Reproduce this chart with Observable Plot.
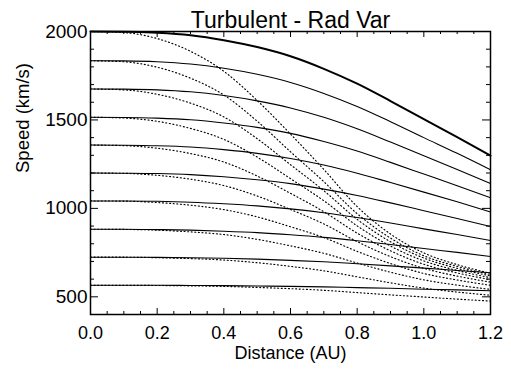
<!DOCTYPE html>
<html><head><meta charset="utf-8">
<script src="https://cdn.jsdelivr.net/npm/d3@7"></script>
<script src="https://cdn.jsdelivr.net/npm/@observablehq/plot@0.6"></script>
<style>body{margin:0;background:#fff} svg{display:block}</style>
</head><body><div id="chart"></div>
<script>
// Distance samples (AU)
const distance = [0, 0.1, 0.2, 0.3, 0.4, 0.5, 0.6, 0.7, 0.8, 0.9, 1.0, 1.1, 1.2];

// Solid curves (km/s), one list per starting speed
const solidSpeeds = [
  [2000,1999,1993,1979,1951,1912,1860,1789,1705,1607,1505,1403,1298],
  [1835,1834,1829,1816,1792,1758,1712,1650,1576,1490,1400,1311,1218],
  [1675,1674,1670,1659,1638,1608,1568,1515,1450,1375,1298,1220,1140],
  [1515,1514,1510,1501,1483,1458,1424,1378,1324,1260,1194,1128,1060],
  [1358,1357,1354,1347,1332,1311,1282,1245,1199,1146,1092,1037,980],
  [1200,1199,1197,1191,1179,1162,1140,1109,1073,1031,987,943,898],
  [1042,1042,1040,1035,1026,1014,997,975,948,917,884,852,818],
  [882,882,880,877,871,863,851,836,817,796,773,751,728],
  [724,724,723,721,718,713,706,698,687,675,662,649,636],
  [565,565,565,564,563,561,559,556,552,548,543,539,534]
];

// Dotted curves (km/s)
const dottedSpeeds = [
  [2000,1994,1960,1888,1775,1610,1420,1220,1010,855,748,682,633],
  [1835,1829,1798,1736,1641,1493,1320,1151,970,832,732,672,626],
  [1675,1670,1645,1595,1517,1394,1247,1100,938,811,719,661,618],
  [1515,1511,1492,1452,1390,1290,1168,1043,901,787,703,649,608],
  [1358,1355,1340,1310,1262,1183,1085,981,860,760,684,635,597],
  [1200,1198,1187,1165,1129,1070,994,912,812,727,661,617,583],
  [1042,1041,1033,1018,993,952,896,835,757,688,632,595,565],
  [882,881,877,867,852,825,788,746,691,639,596,566,542],
  [724,724,721,716,708,693,672,647,613,579,549,527,509],
  [565,565,564,562,559,553,546,537,524,511,499,487,476]
];

// Axis ticks
const xMajor = [0, 0.2, 0.4, 0.6, 0.8, 1.0, 1.2];
const xMinor = [0.05,0.1,0.15,0.25,0.3,0.35,0.45,0.5,0.55,0.65,0.7,0.75,0.85,0.9,0.95,1.05,1.1,1.15];
const yMajor = [500, 1000, 1500, 2000];
const yMinor = [600,700,800,900,1100,1200,1300,1400,1600,1700,1800,1900];

const title = "Turbulent - Rad Var";
const xLabel = "Distance (AU)";
const yLabel = "Speed (km/s)";

function toRows(list) {
  const rows = [];
  list.forEach((s, i) => s.forEach((v, j) => rows.push({x: distance[j], v, id: i})));
  return rows;
}
const solidRows = toRows(solidSpeeds);
const dottedRows = toRows(dottedSpeeds);

const W = 511, H = 370;
const mL = 90, mR = 21, mT = 31, mB = 56;
const pw = W - mL - mR, ph = H - mT - mB;
const font = "'Liberation Sans', Arial, Helvetica, sans-serif";

const chart = Plot.plot({
  width: W, height: H,
  marginLeft: mL, marginRight: mR, marginTop: mT, marginBottom: mB,
  style: {fontFamily: font, fontSize: "18px", color: "black", background: "white"},
  x: {domain: [0, 1.2]},
  y: {domain: [400, 2000]},
  marks: [
    Plot.line(dottedRows, {x: "x", y: "v", z: "id", stroke: "black", strokeWidth: 1.15, strokeDasharray: "1,2.6", curve: "monotone-x"}),
    Plot.line(solidRows.filter(d => d.id > 0), {x: "x", y: "v", z: "id", stroke: "black", strokeWidth: 1.1, curve: "monotone-x"}),
    Plot.line(solidRows.filter(d => d.id === 0), {x: "x", y: "v", stroke: "black", strokeWidth: 2, curve: "monotone-x"}),
    Plot.frame({stroke: "black", strokeWidth: 1.5}),
    // inward ticks, bottom & top
    Plot.tickX(xMajor, {x: d => d, stroke: "black", insetTop: ph - 6}),
    Plot.tickX(xMinor, {x: d => d, stroke: "black", insetTop: ph - 3}),
    Plot.tickX(xMajor, {x: d => d, stroke: "black", insetBottom: ph - 6}),
    Plot.tickX(xMinor, {x: d => d, stroke: "black", insetBottom: ph - 3}),
    // inward ticks, left & right
    Plot.tickY(yMajor, {y: d => d, stroke: "black", insetRight: pw - 8}),
    Plot.tickY(yMinor, {y: d => d, stroke: "black", insetRight: pw - 4}),
    Plot.tickY(yMajor, {y: d => d, stroke: "black", insetLeft: pw - 8}),
    Plot.tickY(yMinor, {y: d => d, stroke: "black", insetLeft: pw - 4}),
    Plot.axisX({ticks: xMajor, tickSize: 0, tickPadding: 12, tickFormat: d => d.toFixed(1), fontSize: 18, label: null}),
    Plot.axisY({ticks: yMajor, tickSize: 0, tickPadding: 3, tickFormat: d => String(d), fontSize: 19, label: null}),
    Plot.text([xLabel], {frameAnchor: "bottom", dy: 44, fontSize: 18, fill: "black"}),
    Plot.text([yLabel], {frameAnchor: "left", rotate: -90, dx: -67, fontSize: 18.5, fill: "black"}),
    Plot.text([title], {frameAnchor: "top", dy: -20, fontSize: 23, fill: "black"})
  ]
});
document.getElementById("chart").appendChild(chart);
</script>
</body></html>
